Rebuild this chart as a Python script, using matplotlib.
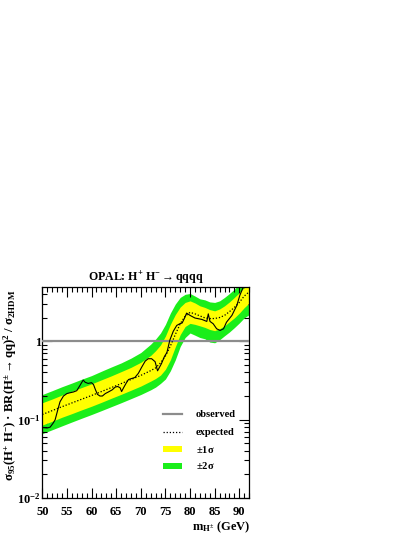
import numpy as np
import matplotlib
matplotlib.use("Agg")
import matplotlib.pyplot as plt
from matplotlib.ticker import FixedLocator, FuncFormatter, LogLocator, NullFormatter, MultipleLocator
from matplotlib.patches import Rectangle
from matplotlib.lines import Line2D

plt.rcParams['font.family'] = ['Liberation Serif', 'DejaVu Serif']
plt.rcParams['font.weight'] = 'bold'
plt.rcParams['mathtext.fontset'] = 'custom'
plt.rcParams['mathtext.rm'] = 'Liberation Serif:bold'
plt.rcParams['mathtext.it'] = 'Liberation Serif:bold:italic'
plt.rcParams['mathtext.bf'] = 'Liberation Serif:bold'
plt.rcParams['mathtext.default'] = 'rm'
plt.rcParams['mathtext.fallback'] = 'stix'

# ---- data ----
mass_grid = [50, 52, 54, 56, 58, 60, 62, 64, 66, 68, 70, 72, 73, 74, 75, 76, 77,
             78, 79, 80, 81, 82, 83, 84, 85, 86, 87, 88, 89, 90, 91, 92]
expected = [0.116, 0.130, 0.146, 0.163, 0.182, 0.203, 0.228, 0.256, 0.288, 0.325,
            0.367, 0.422, 0.457, 0.53, 0.65, 0.87, 1.22, 1.68, 2.1, 2.35, 2.25,
            2.12, 2.0, 1.96, 1.96, 2.02, 2.15, 2.4, 2.72, 3.15, 3.8, 4.3]
green_hi = [0.209, 0.234, 0.263, 0.293, 0.328, 0.365, 0.415, 0.47, 0.53, 0.61,
            0.72, 0.92, 1.07, 1.28, 1.65, 2.3, 3.0, 3.65, 4.0, 4.1, 3.8, 3.5, 3.4,
            3.2, 3.15, 3.3, 3.65, 4.1, 4.65, 5.4, 6.3, 7.2]
yellow_hi = [0.164, 0.183, 0.206, 0.230, 0.257, 0.286, 0.322, 0.362, 0.41, 0.465,
             0.54, 0.66, 0.76, 0.9, 1.17, 1.65, 2.2, 2.75, 3.15, 3.3, 3.1, 2.85,
             2.72, 2.55, 2.46, 2.6, 2.85, 3.2, 3.65, 4.2, 4.9, 5.6]
yellow_lo = [0.085, 0.095, 0.107, 0.119, 0.133, 0.148, 0.166, 0.187, 0.21, 0.237,
             0.268, 0.31, 0.335, 0.37, 0.44, 0.58, 0.85, 1.22, 1.55, 1.7, 1.65,
             1.58, 1.51, 1.42, 1.37, 1.45, 1.58, 1.78, 2.0, 2.3, 2.7, 3.1]
green_lo = [0.066, 0.074, 0.083, 0.093, 0.104, 0.116, 0.130, 0.146, 0.164, 0.185,
            0.209, 0.24, 0.26, 0.29, 0.33, 0.42, 0.58, 0.86, 1.12, 1.28, 1.2,
            1.12, 1.08, 0.98, 0.96, 1.05, 1.18, 1.32, 1.5, 1.72, 2.0, 2.2]

mass_obs = [50.0, 51.0, 51.6, 52.2, 52.6, 53.1, 53.6, 54.3, 55.0, 55.6, 56.3, 57.0,
            57.6, 58.3, 58.7, 59.3, 60.0, 60.4, 60.8, 61.2, 61.7, 62.2, 62.8, 63.4,
            64.2, 64.8, 65.3, 65.8, 66.1, 66.5, 67.0, 67.5, 68.2, 68.8, 69.5, 70.2,
            70.9, 71.5, 72.2, 72.9, 73.4, 74.2, 74.8, 75.3, 75.9, 76.6, 77.3, 77.9,
            78.4, 78.9, 79.3, 80.0, 81.0, 82.4, 83.4, 83.7, 84.05, 84.7, 85.4, 86.1,
            86.8, 87.4, 88.5, 89.5, 90.1, 90.8, 91.5]
observed = [0.079, 0.078, 0.080, 0.09, 0.099, 0.13, 0.169, 0.20, 0.215, 0.22, 0.225,
            0.234, 0.27, 0.32, 0.30, 0.29, 0.296, 0.28, 0.24, 0.21, 0.2, 0.2, 0.215,
            0.225, 0.24, 0.26, 0.265, 0.255, 0.228, 0.255, 0.29, 0.325, 0.336, 0.345,
            0.39, 0.47, 0.56, 0.6, 0.6, 0.55, 0.42, 0.52, 0.64, 0.72, 1.04, 1.35, 1.6,
            1.68, 1.72, 2.0, 2.3, 2.15, 1.99, 1.91, 1.8, 2.25, 1.8, 1.68, 1.45, 1.38,
            1.45, 1.76, 2.15, 2.89, 3.87, 4.95, 6.0]

x_ticks = [50, 55, 60, 65, 70, 75, 80, 85, 90]
y_ticks = [0.01, 0.1, 1]
y_tick_labels = [r'$10^{-2}$', r'$10^{-1}$', '1']
legend_labels = ['observed', 'expected', r'$\pm$1$\sigma$', r'$\pm$2$\sigma$']

GREEN = '#1aee1a'
YELLOW = '#ffff00'
GREY = '#8c8c8c'

fig = plt.figure(figsize=(4.15, 5.37), dpi=100)
ax = fig.add_axes([42.3 / 415, 1 - 497.7 / 537, 207 / 415, 210.4 / 537])

ax.fill_between(mass_grid, green_lo, green_hi, color=GREEN, lw=0, zorder=1)
ax.fill_between(mass_grid, yellow_lo, yellow_hi, color=YELLOW, lw=0, zorder=2)
ax.axhline(1.0, color=GREY, lw=1.6, zorder=3)
ax.plot(mass_grid, expected, color='black', lw=0.9, ls=(0, (1, 1.5)), zorder=4)
ax.plot(mass_obs, observed, color='black', lw=0.8, zorder=5)

ax.set_yscale('log')
ax.set_xlim(50, 92.03)
ax.set_ylim(0.01, 4.92)

ax.xaxis.set_major_locator(FixedLocator(x_ticks))
ax.xaxis.set_minor_locator(MultipleLocator(1))
ax.yaxis.set_major_locator(FixedLocator(y_ticks))
ax.yaxis.set_major_formatter(FuncFormatter(lambda v, p: y_tick_labels[y_ticks.index(v)] if v in y_ticks else ''))
ax.yaxis.set_minor_locator(LogLocator(base=10, subs=np.arange(2, 10)))
ax.yaxis.set_minor_formatter(NullFormatter())
ax.tick_params(which='both', direction='in', top=True, right=True, labelsize=9, width=0.8)
ax.tick_params(which='major', length=7)
ax.tick_params(which='minor', length=3.5)
ax.tick_params(axis='y', pad=1)
ax.tick_params(axis='x', pad=6)
for lab in ax.get_xticklabels() + ax.get_yticklabels():
    lab.set_fontweight('bold')
for s in ax.spines.values():
    s.set_linewidth(0.9)

# legend (manual, axes fraction)
rows = [0.396, 0.312, 0.231, 0.151]
x0, x1, xt = 0.582, 0.674, 0.742
ax.add_line(Line2D([x0, x1], [rows[0]] * 2, transform=ax.transAxes, color=GREY, lw=1.6, zorder=6))
ax.add_line(Line2D([x0, x1], [rows[1]] * 2, transform=ax.transAxes, color='black', lw=0.9,
                   ls=(0, (1, 1.5)), zorder=6))
ax.add_patch(Rectangle((x0, rows[2] - 0.015), x1 - x0, 0.03, transform=ax.transAxes,
                       color=YELLOW, lw=0, zorder=6))
ax.add_patch(Rectangle((x0, rows[3] - 0.015), x1 - x0, 0.03, transform=ax.transAxes,
                       color=GREEN, lw=0, zorder=6))
for r, lab in zip(rows, legend_labels):
    ax.text(xt, r, lab, transform=ax.transAxes, ha='left', va='center', fontsize=7.6,
            fontweight='bold', zorder=7)

fig.text(0.5 * (42.3 + 249.3) / 415, 1 - 278 / 537, r'OPAL: H$^{+}$ H$^{-}$$\rightarrow$qqqq',
         ha='center', va='center', fontsize=8.6, fontweight='bold')
fig.text(10 / 415, 1 - 289 / 537,
         r'$\sigma_{95}$(H$^{+}$ H$^{-}$) $\cdot$ BR(H$^{\pm}$$\rightarrow$qq)$^{2}$ / $\sigma_{2HDM}$'.replace(r'$\cdot$', '\u00b7'),
         rotation=90, ha='center', va='top', fontsize=9.2, fontweight='bold')
fig.text(250 / 415, 1 - 527 / 537, r'm$_{H^{\pm}}$ (GeV)', ha='right', va='center',
         fontsize=9, fontweight='bold')

fig.savefig('out.png', dpi=100)
